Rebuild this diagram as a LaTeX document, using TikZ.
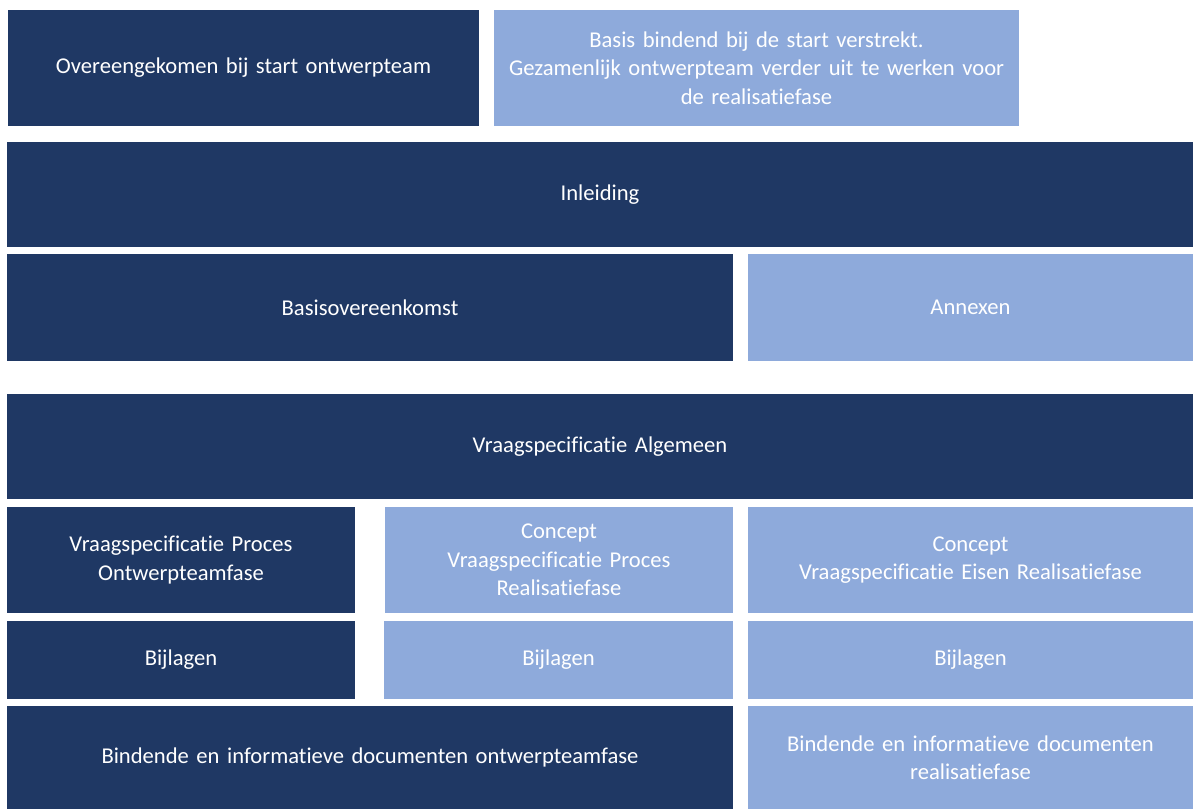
\documentclass[tikz,border=0pt]{standalone}
\usepackage{fontspec}
\setmainfont{Carlito}[Ligatures=NoCommon]
\definecolor{darkblk}{HTML}{1F3864}
\definecolor{lightblk}{HTML}{8EAADB}
\tikzset{
  blkbase/.style={inner sep=0pt, align=center, text=white, font=\fontsize{22.6}{28.5}\selectfont},
  darkbox/.style={blkbase, fill=darkblk},
  lightbox/.style={blkbase, fill=lightblk},
}
\newcommand\blk[7]{%
  \node[#6, minimum width={(#4-#2)*1pt}, minimum height={(#5-#3)*1pt}, text width={(#4-#2-10)*1pt}]
    (#1) at ({(#2+#4)/2*1pt},{-(#3+#5)/2*1pt}) {#7};}
\begin{document}
\begin{tikzpicture}[x=1pt,y=1pt]
\useasboundingbox (0,0) rectangle (1195,-809);
\blk{agreed}{8}{10}{479}{126}{darkbox}{Overeengekomen bij start ontwerpteam}
\blk{basis}{494}{10}{1019}{126}{lightbox}{Basis bindend bij de start verstrekt.\\Gezamenlijk ontwerpteam verder uit te werken voor\\de realisatiefase}
\blk{inleiding}{7}{142}{1193}{247}{darkbox}{Inleiding}
\blk{basisov}{7}{254}{733}{361}{darkbox}{Basisovereenkomst}
\blk{annexen}{748}{254}{1193}{361}{lightbox}{Annexen}
\blk{vsalg}{7}{394}{1193}{499}{darkbox}{Vraagspecificatie Algemeen}
\blk{vsproc}{7}{507}{355}{613}{darkbox}{Vraagspecificatie Proces\\Ontwerpteamfase}
\blk{cvsproc}{385}{507}{733}{613}{lightbox}{Concept\\Vraagspecificatie Proces\\Realisatiefase}
\blk{cvseisen}{748}{507}{1193}{613}{lightbox}{Concept\\Vraagspecificatie Eisen Realisatiefase}
\blk{bijl1}{7}{621}{355}{699}{darkbox}{Bijlagen}
\blk{bijl2}{384}{621}{733}{699}{lightbox}{Bijlagen}
\blk{bijl3}{748}{621}{1193}{699}{lightbox}{Bijlagen}
\blk{bindo}{7}{706}{733}{809}{darkbox}{Bindende en informatieve documenten ontwerpteamfase}
\blk{bindr}{748}{706}{1193}{809}{lightbox}{Bindende en informatieve documenten\\realisatiefase}
\end{tikzpicture}
\end{document}
